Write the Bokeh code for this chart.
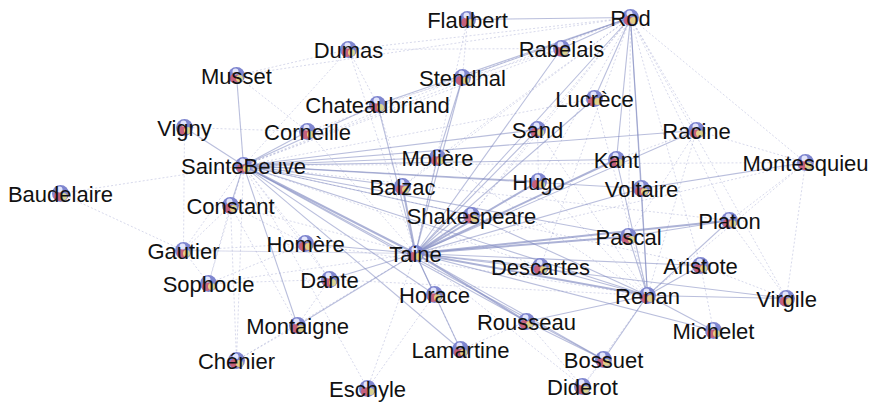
from bokeh.plotting import figure
from bokeh.models import Range1d, ColumnDataSource
from bokeh.embed import file_html
from bokeh.resources import INLINE
from bokeh.core.properties import value

# ---- data: node names and layout positions (layout units, y downward) ----
names = ["Flaubert", "Rod", "Dumas", "Rabelais", "Musset", "Stendhal", "Chateaubriand",
         "Lucrèce", "Vigny", "Corneille", "Sand", "Racine", "SainteBeuve", "Molière",
         "Kant", "Montesquieu", "Baudelaire", "Balzac", "Hugo", "Voltaire", "Constant",
         "Shakespeare", "Platon", "Homère", "Pascal", "Gautier", "Taine", "Descartes",
         "Aristote", "Dante", "Sophocle", "Horace", "Renan", "Virgile", "Montaigne",
         "Rousseau", "Michelet", "Lamartine", "Chénier", "Bossuet", "Eschyle", "Diderot"]
node_x = [467, 630, 348, 561, 236, 462, 377, 594, 184, 307, 537, 696, 243, 437,
          616, 805, 60, 402, 538, 641, 230, 471, 729, 305, 628, 183, 415, 540,
          700, 329, 208, 434, 647, 786, 297, 526, 713, 460, 236, 603, 367, 582]
node_y = [19, 17, 49, 48, 75, 77, 104, 98, 127, 131, 129, 130, 165, 157,
          159, 162, 193, 186, 181, 188, 205, 215, 220, 243, 236, 250, 253, 266,
          265, 279, 283, 294, 295, 298, 325, 321, 330, 349, 360, 359, 388, 386]

# ---- data: edges (source, target, strength 1..3) ----
hub_sb = [("Taine", 3), ("Shakespeare", 2), ("Balzac", 2), ("Molière", 2), ("Hugo", 2),
          ("Kant", 2), ("Racine", 2), ("Montesquieu", 1), ("Voltaire", 2), ("Pascal", 2),
          ("Descartes", 1), ("Renan", 2), ("Horace", 2), ("Dante", 1), ("Homère", 1),
          ("Constant", 2), ("Gautier", 1), ("Sophocle", 1), ("Chénier", 1), ("Montaigne", 2),
          ("Rousseau", 2), ("Musset", 2), ("Vigny", 2), ("Corneille", 2), ("Chateaubriand", 2),
          ("Stendhal", 1), ("Sand", 2), ("Lamartine", 2), ("Bossuet", 2), ("Eschyle", 1),
          ("Baudelaire", 1), ("Dumas", 1), ("Platon", 1), ("Aristote", 1), ("Rabelais", 1),
          ("Lucrèce", 1)]
hub_taine = [("Shakespeare", 3), ("Balzac", 3), ("Molière", 2), ("Stendhal", 2), ("Hugo", 3),
             ("Sand", 2), ("Racine", 2), ("Kant", 3), ("Voltaire", 2), ("Platon", 3),
             ("Pascal", 3), ("Descartes", 2), ("Aristote", 2), ("Renan", 3), ("Virgile", 2),
             ("Horace", 2), ("Rousseau", 3), ("Bossuet", 2), ("Lamartine", 2), ("Eschyle", 1),
             ("Dante", 2), ("Homère", 2), ("Constant", 1), ("Chateaubriand", 2), ("Dumas", 1),
             ("Michelet", 2), ("Montaigne", 2), ("Rabelais", 2), ("Flaubert", 1), ("Diderot", 1),
             ("Corneille", 1), ("Lucrèce", 2), ("Montesquieu", 1), ("Gautier", 1), ("Sophocle", 1)]
hub_rod = [("Flaubert", 2), ("Rabelais", 2), ("Stendhal", 2), ("Dumas", 1), ("Chateaubriand", 2),
           ("Lucrèce", 2), ("Sand", 1), ("Kant", 2), ("Racine", 1), ("Voltaire", 2), ("Hugo", 1),
           ("Pascal", 1), ("Renan", 2), ("Taine", 2), ("Platon", 1), ("Aristote", 1),
           ("Shakespeare", 1), ("Corneille", 1), ("Balzac", 1), ("Molière", 1), ("Descartes", 1),
           ("Virgile", 1), ("Montesquieu", 1), ("SainteBeuve", 1), ("Musset", 1)]
hub_renan = [("Kant", 2), ("Voltaire", 2), ("Pascal", 2), ("Platon", 2), ("Aristote", 2),
             ("Virgile", 2), ("Michelet", 2), ("Bossuet", 2), ("Diderot", 1), ("Rousseau", 2),
             ("Descartes", 2), ("Shakespeare", 2), ("Hugo", 1), ("Racine", 1), ("Sand", 1),
             ("Montesquieu", 1), ("Lucrèce", 1), ("Molière", 1), ("Homère", 1), ("Dante", 1)]
other_edges = [("Constant", "Chénier", 1), ("Constant", "Sophocle", 1), ("Constant", "Gautier", 1),
               ("Constant", "Montaigne", 1), ("Gautier", "Baudelaire", 1), ("Sophocle", "Homère", 1),
               ("Horace", "Lamartine", 1), ("Rousseau", "Bossuet", 2), ("Bossuet", "Diderot", 1),
               ("Homère", "Dante", 1), ("Montaigne", "Dante", 1), ("Platon", "Virgile", 1),
               ("Aristote", "Virgile", 1), ("Montesquieu", "Virgile", 1), ("Montesquieu", "Platon", 1),
               ("Racine", "Montesquieu", 1), ("Kant", "Racine", 1), ("Voltaire", "Montesquieu", 2),
               ("Molière", "Balzac", 1), ("Shakespeare", "Sand", 1), ("Hugo", "Sand", 1),
               ("Pascal", "Platon", 2), ("Racine", "Pascal", 1), ("Michelet", "Aristote", 1),
               ("Musset", "Dumas", 1), ("Musset", "Corneille", 1), ("Vigny", "Corneille", 1),
               ("Dumas", "Chateaubriand", 1), ("Dumas", "Rabelais", 1), ("Flaubert", "Stendhal", 1),
               ("Chateaubriand", "Rabelais", 1), ("Stendhal", "Molière", 2),
               ("Chateaubriand", "Balzac", 1), ("Eschyle", "Horace", 1), ("Rousseau", "Diderot", 1),
               ("Lamartine", "Rousseau", 1), ("Gautier", "Sophocle", 1), ("Chénier", "Montaigne", 1),
               ("Gautier", "Homère", 1), ("Sophocle", "Dante", 1), ("Vigny", "Gautier", 1),
               ("Constant", "Homère", 1), ("Gautier", "Taine", 1), ("Chénier", "Taine", 1)]

edges = ([("SainteBeuve", t, w) for t, w in hub_sb] +
         [("Taine", t, w) for t, w in hub_taine] +
         [("Rod", t, w) for t, w in hub_rod] +
         [("Renan", t, w) for t, w in hub_renan] + other_edges)

pos = {n: (x, y) for n, x, y in zip(names, node_x, node_y)}

W, H = 869, 403
p = figure(width=W, height=H, output_backend="svg", toolbar_location=None,
           x_range=Range1d(0, W), y_range=Range1d(H, 0),
           min_border=0, outline_line_color=None, background_fill_color="white",
           border_fill_color="white")
p.axis.visible = False
p.grid.visible = False

styles = {1: dict(line_width=0.8, line_alpha=0.4, line_dash="2 2"),
          2: dict(line_width=1.1, line_alpha=0.55, line_dash="solid"),
          3: dict(line_width=2.0, line_alpha=0.65, line_dash="solid")}
for w in (1, 2, 3):
    xs = [[pos[a][0], pos[b][0]] for a, b, ww in edges if ww == w]
    ys = [[pos[a][1], pos[b][1]] for a, b, ww in edges if ww == w]
    p.multi_line(xs, ys, line_color="#8088c0", **styles[w])

# spheres
p.scatter(node_x, node_y, size=17, fill_color="#7f86cf", line_color=None)
p.scatter([x - 2 for x in node_x], [y + 3 for y in node_y], size=9,
          fill_color="#d05a6e", fill_alpha=0.85, line_color=None)
p.scatter([x + 3 for x in node_x], [y + 3 for y in node_y], size=7,
          fill_color="#eadf86", fill_alpha=0.85, line_color=None)
p.scatter([x - 1 for x in node_x], [y - 4 for y in node_y], size=6,
          fill_color="#eef0ff", fill_alpha=0.9, line_color=None)

src = ColumnDataSource(dict(x=node_x, y=[y + 1 for y in node_y], t=names))
p.text(x="x", y="y", text="t", source=src, text_align="center",
       text_baseline="middle", text_font=value("Liberation Sans"),
       text_font_size="22px", text_color="#111111")

open("out.html", "w").write(file_html(p, INLINE))
